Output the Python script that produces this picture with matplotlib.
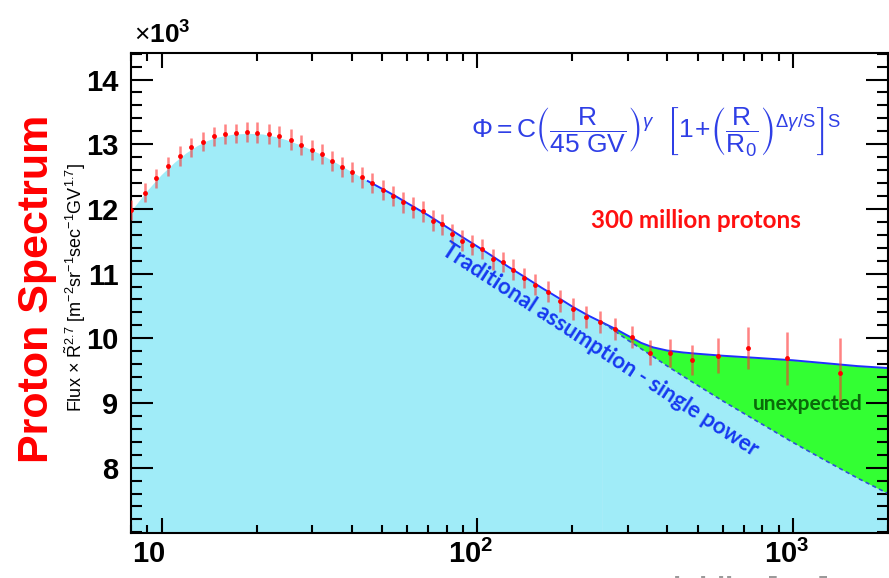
import numpy as np
import matplotlib
matplotlib.use("Agg")
import matplotlib.pyplot as plt
from matplotlib.ticker import FixedLocator, MultipleLocator, NullFormatter, FixedFormatter, LogLocator
from matplotlib.transforms import ScaledTranslation

plt.rcParams['font.family'] = ['Liberation Sans', 'DejaVu Sans']
plt.rcParams['mathtext.fontset'] = 'custom'
plt.rcParams['mathtext.rm'] = 'Liberation Sans'
plt.rcParams['mathtext.it'] = 'Liberation Sans:italic'
plt.rcParams['mathtext.bf'] = 'Liberation Sans:bold'
plt.rcParams['mathtext.fallback'] = 'stixsans'

# ---- data ----
rigidity = [8.02, 8.84, 9.63, 10.48, 11.44, 12.43, 13.51, 14.67, 15.86, 17.19,
            18.62, 20.12, 21.87, 23.57, 25.68, 27.63, 29.85, 32.11, 34.63, 37.27,
            40.08, 43.2, 46.47, 50.1, 53.9, 58.0, 62.4, 67.1, 72.2, 77.3,
            83.2, 89.4, 96.2, 103.5, 111.8, 120.3, 129.4, 140.5, 152.7, 167.0,
            182.9, 200.5, 221.1, 244.8, 273.8, 308.2, 352.3, 406.9, 479.1, 578.5,
            720.2, 955.9, 1411]
flux = [11.98, 12.25, 12.47, 12.66, 12.82, 12.95, 13.04, 13.12, 13.16, 13.17,
        13.19, 13.18, 13.16, 13.12, 13.07, 12.99, 12.91, 12.85, 12.74, 12.65,
        12.57, 12.49, 12.40, 12.29, 12.20, 12.10, 12.02, 11.96, 11.82, 11.76,
        11.61, 11.51, 11.44, 11.38, 11.22, 11.18, 11.06, 10.93, 10.83, 10.72,
        10.58, 10.45, 10.33, 10.25, 10.15, 10.02, 9.78, 9.77, 9.67, 9.73,
        9.85, 9.69, 9.47]
flux_err = [0.15] * 10 + [0.16] * 30 + [0.17] * 6 + [0.20, 0.22, 0.23, 0.27, 0.33, 0.41, 0.53]

# fitted / smooth curve
curve_R = [8.0, 9, 10, 11, 12, 13, 14, 15, 17, 19, 21, 23, 25, 28, 32, 36, 40, 45, 50, 55,
           60, 70, 80, 90, 100, 110, 125, 140, 160, 180, 200, 225, 250, 275, 300, 330,
           360, 400, 450, 500, 600, 750, 1000, 1300, 1600, 2000]
curve_v = [11.95, 12.27, 12.52, 12.71, 12.86, 12.97, 13.05, 13.10, 13.15, 13.16, 13.15,
           13.11, 13.06, 12.97, 12.84, 12.70, 12.57, 12.43, 12.31, 12.20, 12.09, 11.90,
           11.72, 11.56, 11.42, 11.29, 11.11, 10.96, 10.78, 10.63, 10.49, 10.35, 10.24,
           10.14, 10.04, 9.93, 9.86, 9.81, 9.78, 9.76, 9.73, 9.70, 9.66, 9.61, 9.57, 9.54]

# single power-law extrapolation
single_R = [250, 275, 300, 330, 360, 400, 450, 500, 600, 750, 1000, 1300, 1600, 2000]
single_v = [10.24, 10.10, 9.97, 9.84, 9.72, 9.57, 9.41, 9.27, 9.03, 8.75, 8.39, 8.08, 7.84, 7.60]

xtick_vals = [10, 100, 1000]
xtick_labels = [r'$\mathbf{10}$', r'$\mathbf{10^{2}}$', r'$\mathbf{10^{3}}$']
ytick_vals = [8, 9, 10, 11, 12, 13, 14]

# ---- figure ----
W, H = 889, 578
fig = plt.figure(figsize=(W / 100, H / 100), dpi=100)
def fx(x): return x / W
def fy(y): return 1 - y / H

ax = fig.add_axes([fx(131), fy(533), (888 - 131) / W, (533 - 53) / H])
ax.set_xscale('log')
ax.set_xlim(8, 2000)
ax.set_ylim(6.99, 14.41)

cR = np.array(curve_R, dtype=float)
cV = np.array(curve_v)
sR = np.array(single_R, dtype=float)
sV = np.array(single_v)
low = cR <= 250
hi = cR >= 250
fit_mask = cR >= 45

cyan = '#a0ecf8'
ax.fill_between(cR[low], 0, cV[low], color=cyan, lw=0, zorder=1)
ax.fill_between(sR, 0, sV, color=cyan, lw=0, zorder=1)
ax.fill_between(sR, sV, cV[hi], color='#33ff33', lw=0, zorder=1)

ax.plot(cR[fit_mask], cV[fit_mask], color='#2030ff', lw=1.4, zorder=2)
ax.plot(sR, sV, color='#3050d8', lw=1.2, ls=(0, (2.5, 2)), zorder=2)

ax.errorbar(rigidity, flux, yerr=flux_err, fmt='none', ecolor='#ff3030', alpha=0.6,
            elinewidth=1.8, capsize=0, zorder=3)
ax.plot(rigidity, flux, 'o', color='#ff0000', ms=3.5, mew=0, zorder=4)

# ticks
ax.xaxis.set_major_locator(FixedLocator(xtick_vals))
ax.xaxis.set_major_formatter(FixedFormatter(xtick_labels))
ax.xaxis.set_minor_locator(LogLocator(base=10, subs=np.arange(2, 10)))
ax.xaxis.set_minor_formatter(NullFormatter())
ax.yaxis.set_major_locator(FixedLocator(ytick_vals))
ax.yaxis.set_minor_locator(MultipleLocator(0.2))
ax.tick_params(which='both', direction='in', top=True, right=True, width=1.5, colors='black')
ax.tick_params(axis='y', which='major', length=16, pad=9, labelsize=21)
ax.tick_params(axis='y', which='minor', length=8)
ax.tick_params(axis='x', which='major', length=11, pad=5, labelsize=21)
ax.tick_params(axis='x', which='minor', length=6)
for lab in ax.get_yticklabels():
    lab.set_fontweight('bold')
for lab, dx in zip(ax.get_xticklabels(), [-13, -7, -6]):
    lab.set_transform(lab.get_transform() + ScaledTranslation(dx / 100, 0, fig.dpi_scale_trans))
for sp in ax.spines.values():
    sp.set_linewidth(1.5)

# texts
fig.text(fx(134), fy(44), r'$\times\mathbf{10^{3}}$', fontsize=19, va='baseline', ha='left')
fig.text(fx(75), fy(288),
         r'Flux $\times$ $\tilde{\mathrm{R}}^{2.7}$ [m$^{-2}$sr$^{-1}$sec$^{-1}$GV$^{1.7}$]',
         rotation=90, ha='center', va='center', fontsize=13)
fig.text(fx(37), fy(289), 'Proton Spectrum', rotation=90, ha='center', va='center',
         fontsize=31, fontweight='bold', color='#ff0000')
fig.text(fx(656), fy(132),
         r'$\Phi = \mathrm{C}\left(\dfrac{\mathrm{R}}{\mathrm{45\ GV}}\right)^{\gamma}\ \ '
         r'\left[1\!+\!\left(\dfrac{\mathrm{R}}{\mathrm{R_0}}\right)^{\Delta\gamma/\mathrm{S}}\right]^{\mathrm{S}}$',
         color='#2f3fe6', fontsize=19, ha='center', va='center')
fig.text(fx(696), fy(221), '300 million protons', color='#ff1010', fontsize=17.5,
         fontweight='bold', family=['Lato', 'DejaVu Sans'], ha='center', va='center')
fig.text(fx(600), fy(350), 'Traditional assumption - single power', color='#1538f0',
         fontsize=16, fontweight='bold', family=['Lato', 'DejaVu Sans'], rotation=-33,
         rotation_mode='anchor', ha='center', va='center')
fig.text(fx(808), fy(404), 'unexpected', color='#0a6a0a', fontsize=15, fontweight='bold',
         family=['Lato', 'DejaVu Sans'], ha='center', va='center')
fig.text(fx(652), fy(576), 'Rigidity [GV]', color='#9a9a9a', fontsize=21, fontweight='bold',
         ha='left', va='top')

fig.savefig('out.png', dpi=100)
